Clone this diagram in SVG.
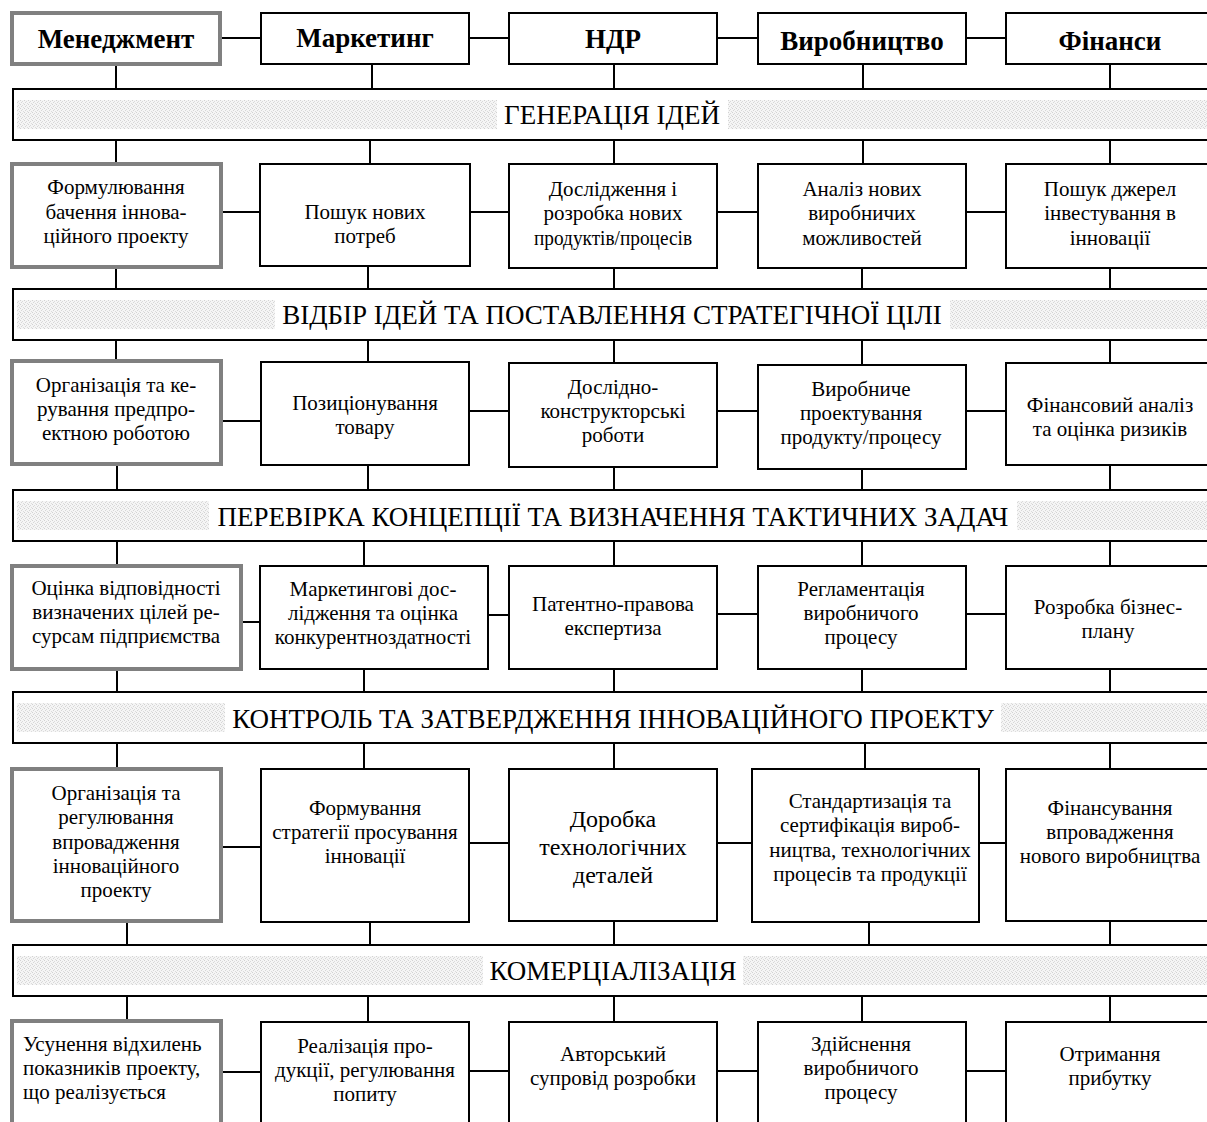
<svg xmlns="http://www.w3.org/2000/svg" width="1207" height="1122" viewBox="0 0 1207 1122">
  <defs>
    <pattern id="stipple" width="4" height="4" patternUnits="userSpaceOnUse">
      <rect width="4" height="4" fill="#f5f5f5"/>
      <rect x="0" y="0" width="1" height="1" fill="#d2d2d2"/>
      <rect x="2" y="1" width="1" height="1" fill="#dadada"/>
      <rect x="1" y="2" width="1" height="1" fill="#d6d6d6"/>
      <rect x="3" y="3" width="1" height="1" fill="#dcdcdc"/>
    </pattern>
    <style>
      .box { fill: #fff; stroke: #000; stroke-width: 2; }
      .mgr { fill: #fff; stroke: #808080; stroke-width: 4; }
      .band { fill: #fff; stroke: #000; stroke-width: 2; }
      .strip { fill: url(#stipple); }
      .lab { fill: #fff; }
      .hdr { font-family: "Liberation Serif", "Times New Roman", serif; font-size: 27px; font-weight: bold; text-anchor: middle; fill: #000; }
      .stage { font-family: "Liberation Serif", "Times New Roman", serif; font-size: 27px; text-anchor: middle; fill: #000; }
      .t { font-family: "Liberation Serif", "Times New Roman", serif; font-size: 21px; text-anchor: middle; fill: #000; }
      .tl { font-family: "Liberation Serif", "Times New Roman", serif; font-size: 21px; text-anchor: start; fill: #000; }
      .big { font-family: "Liberation Serif", "Times New Roman", serif; font-size: 24px; text-anchor: middle; fill: #000; }
      .wire { stroke: #000; stroke-width: 2; fill: none; }
    </style>
  </defs>

  <rect width="1207" height="1122" fill="#fff"/>

  <!-- connectors -->
  <g id="connectors" class="wire">
    <!-- header row -->
    <path d="M220 38H261 M469 38H509 M717 38H758 M966 38H1006"/>
    <path d="M116 64V89 M372 64V89 M614 64V89 M863 64V89 M1110 64V89"/>
    <!-- row 1 -->
    <path d="M116 140V164 M370 140V164 M614 140V164 M863 140V164 M1110 140V164"/>
    <path d="M221 212H260 M470 212H509 M717 212H758 M966 212H1006"/>
    <path d="M116 267V289 M368 266V289 M614 268V289 M862 268V289 M1110 268V289"/>
    <!-- row 2 -->
    <path d="M116 340V362 M368 340V362 M614 340V363 M862 340V365 M1110 340V363"/>
    <path d="M221 421H261 M469 411H509 M717 411H758 M966 411H1006"/>
    <path d="M117 464V490 M368 465V490 M614 467V490 M862 469V490 M1110 465V490"/>
    <!-- row 3 -->
    <path d="M117 541V566 M364 541V566 M614 541V566 M862 541V566 M1110 541V566"/>
    <path d="M241 622H260 M488 615H509 M717 614H758 M966 614H1006"/>
    <path d="M117 669V692 M364 669V692 M614 669V692 M862 669V692 M1110 669V692"/>
    <!-- row 4 -->
    <path d="M117 743V769 M364 743V769 M614 743V769 M865 743V769 M1110 743V769"/>
    <path d="M221 847H261 M469 843H509 M717 843H752 M979 843H1006"/>
    <path d="M127 921V945 M370 922V945 M614 921V945 M869 922V945 M1110 921V945"/>
    <!-- row 5 -->
    <path d="M127 996V1021 M368 996V1022 M614 996V1022 M862 996V1022 M1110 996V1022"/>
    <path d="M221 1072H261 M469 1071H509 M717 1071H758 M966 1071H1006"/>
  </g>

  <!-- header: functional departments -->
  <g id="dept-management">
    <rect class="mgr" x="12" y="13" width="208" height="51"/>
    <text class="hdr" x="116" y="48">Менеджмент</text>
  </g>
  <g id="dept-marketing">
    <rect class="box" x="261" y="13" width="208" height="51"/>
    <text class="hdr" x="365" y="47">Маркетинг</text>
  </g>
  <g id="dept-rnd">
    <rect class="box" x="509" y="13" width="208" height="51"/>
    <text class="hdr" x="613" y="48">НДР</text>
  </g>
  <g id="dept-production">
    <rect class="box" x="758" y="13" width="208" height="51"/>
    <text class="hdr" x="862" y="50">Виробництво</text>
  </g>
  <g id="dept-finance">
    <rect class="box" x="1006" y="13" width="220" height="51"/>
    <text class="hdr" x="1110" y="50">Фінанси</text>
  </g>

  <!-- stage bands -->
  <g id="stage-1">
    <rect class="band" x="13" y="89" width="1220" height="51"/>
    <rect class="strip" x="17" y="100" width="1200" height="29"/>
    <rect class="lab" x="497" y="100" width="231" height="29"/>
    <text class="stage" x="612" y="124">ГЕНЕРАЦІЯ ІДЕЙ</text>
  </g>
  <g id="stage-2">
    <rect class="band" x="13" y="289" width="1220" height="51"/>
    <rect class="strip" x="17" y="300" width="1200" height="29"/>
    <rect class="lab" x="275" y="300" width="675" height="29"/>
    <text class="stage" x="612" y="324">ВІДБІР ІДЕЙ ТА ПОСТАВЛЕННЯ СТРАТЕГІЧНОЇ ЦІЛІ</text>
  </g>
  <g id="stage-3">
    <rect class="band" x="13" y="490" width="1220" height="51"/>
    <rect class="strip" x="17" y="501" width="1200" height="29"/>
    <rect class="lab" x="209" y="501" width="808" height="29"/>
    <text class="stage" x="613" y="526">ПЕРЕВІРКА КОНЦЕПЦІЇ ТА ВИЗНАЧЕННЯ ТАКТИЧНИХ ЗАДАЧ</text>
  </g>
  <g id="stage-4">
    <rect class="band" x="13" y="692" width="1220" height="51"/>
    <rect class="strip" x="17" y="703" width="1200" height="29"/>
    <rect class="lab" x="225" y="703" width="776" height="29"/>
    <text class="stage" x="613" y="728">КОНТРОЛЬ ТА ЗАТВЕРДЖЕННЯ ІННОВАЦІЙНОГО ПРОЕКТУ</text>
  </g>
  <g id="stage-5">
    <rect class="band" x="13" y="945" width="1220" height="51"/>
    <rect class="strip" x="17" y="956" width="1200" height="29"/>
    <rect class="lab" x="483" y="956" width="260" height="29"/>
    <text class="stage" x="613" y="980">КОМЕРЦІАЛІЗАЦІЯ</text>
  </g>

  <!-- row 1 -->
  <g id="r1-management">
    <rect class="mgr" x="12" y="164" width="209" height="103"/>
    <text class="t"><tspan x="116" y="194">Формулювання</tspan><tspan x="116" y="219">бачення іннова-</tspan><tspan x="116" y="243">ційного проекту</tspan></text>
  </g>
  <g id="r1-marketing">
    <rect class="box" x="260" y="164" width="210" height="102"/>
    <text class="t"><tspan x="365" y="219">Пошук нових</tspan><tspan x="365" y="243">потреб</tspan></text>
  </g>
  <g id="r1-rnd">
    <rect class="box" x="509" y="164" width="208" height="104"/>
    <text class="t"><tspan x="613" y="196">Дослідження і</tspan><tspan x="613" y="220">розробка нових</tspan></text>
    <text class="t" x="613" y="245" textLength="158" lengthAdjust="spacingAndGlyphs">продуктів/процесів</text>
  </g>
  <g id="r1-production">
    <rect class="box" x="758" y="164" width="208" height="104"/>
    <text class="t"><tspan x="862" y="196">Аналіз нових</tspan><tspan x="862" y="220">виробничих</tspan><tspan x="862" y="245">можливостей</tspan></text>
  </g>
  <g id="r1-finance">
    <rect class="box" x="1006" y="164" width="220" height="104"/>
    <text class="t"><tspan x="1110" y="196">Пошук джерел</tspan><tspan x="1110" y="220">інвестування в</tspan><tspan x="1110" y="245">інновації</tspan></text>
  </g>

  <!-- row 2 -->
  <g id="r2-management">
    <rect class="mgr" x="12" y="361" width="209" height="103"/>
    <text class="t"><tspan x="116" y="392">Організація та ке-</tspan><tspan x="116" y="416">рування предпро-</tspan><tspan x="116" y="440">ектною роботою</tspan></text>
  </g>
  <g id="r2-marketing">
    <rect class="box" x="261" y="362" width="208" height="103"/>
    <text class="t"><tspan x="365" y="410">Позиціонування</tspan><tspan x="365" y="434">товару</tspan></text>
  </g>
  <g id="r2-rnd">
    <rect class="box" x="509" y="363" width="208" height="104"/>
    <text class="t"><tspan x="613" y="394">Дослідно-</tspan><tspan x="613" y="418">конструкторські</tspan><tspan x="613" y="442">роботи</tspan></text>
  </g>
  <g id="r2-production">
    <rect class="box" x="758" y="365" width="208" height="104"/>
    <text class="t"><tspan x="861" y="396">Виробниче</tspan><tspan x="861" y="420">проектування</tspan><tspan x="861" y="444">продукту/процесу</tspan></text>
  </g>
  <g id="r2-finance">
    <rect class="box" x="1006" y="363" width="220" height="102"/>
    <text class="t"><tspan x="1110" y="412">Фінансовий аналіз</tspan><tspan x="1110" y="436">та оцінка ризиків</tspan></text>
  </g>

  <!-- row 3 -->
  <g id="r3-management">
    <rect class="mgr" x="12" y="566" width="229" height="103"/>
    <text class="t"><tspan x="126" y="595">Оцінка відповідності</tspan><tspan x="126" y="619">визначених цілей ре-</tspan><tspan x="126" y="643">сурсам підприємства</tspan></text>
  </g>
  <g id="r3-marketing">
    <rect class="box" x="260" y="566" width="228" height="103"/>
    <text class="t"><tspan x="373" y="596">Маркетингові дос-</tspan><tspan x="373" y="620">лідження та оцінка</tspan><tspan x="373" y="644">конкурентноздатності</tspan></text>
  </g>
  <g id="r3-rnd">
    <rect class="box" x="509" y="566" width="208" height="103"/>
    <text class="t"><tspan x="613" y="611">Патентно-правова</tspan><tspan x="613" y="635">експертиза</tspan></text>
  </g>
  <g id="r3-production">
    <rect class="box" x="758" y="566" width="208" height="103"/>
    <text class="t"><tspan x="861" y="596">Регламентація</tspan><tspan x="861" y="620">виробничого</tspan><tspan x="861" y="644">процесу</tspan></text>
  </g>
  <g id="r3-finance">
    <rect class="box" x="1006" y="566" width="220" height="103"/>
    <text class="t"><tspan x="1108" y="614">Розробка бізнес-</tspan><tspan x="1108" y="638">плану</tspan></text>
  </g>

  <!-- row 4 -->
  <g id="r4-management">
    <rect class="mgr" x="12" y="769" width="209" height="152"/>
    <text class="t"><tspan x="116" y="800">Організація та</tspan><tspan x="116" y="824">регулювання</tspan><tspan x="116" y="849">впровадження</tspan><tspan x="116" y="873">інноваційного</tspan><tspan x="116" y="897">проекту</tspan></text>
  </g>
  <g id="r4-marketing">
    <rect class="box" x="261" y="769" width="208" height="153"/>
    <text class="t"><tspan x="365" y="815">Формування</tspan><tspan x="365" y="839">стратегії просування</tspan><tspan x="365" y="863">інновації</tspan></text>
  </g>
  <g id="r4-rnd">
    <rect class="box" x="509" y="769" width="208" height="152"/>
    <text class="big"><tspan x="613" y="827">Доробка</tspan><tspan x="613" y="855">технологічних</tspan><tspan x="613" y="883">деталей</tspan></text>
  </g>
  <g id="r4-production">
    <rect class="box" x="752" y="769" width="227" height="153"/>
    <text class="t"><tspan x="870" y="808">Стандартизація та</tspan><tspan x="870" y="832">сертифікація вироб-</tspan><tspan x="870" y="857">ництва, технологічних</tspan><tspan x="870" y="881">процесів та продукції</tspan></text>
  </g>
  <g id="r4-finance">
    <rect class="box" x="1006" y="769" width="220" height="152"/>
    <text class="t"><tspan x="1110" y="815">Фінансування</tspan><tspan x="1110" y="839">впровадження</tspan><tspan x="1110" y="863">нового виробництва</tspan></text>
  </g>

  <!-- row 5 -->
  <g id="r5-management">
    <rect class="mgr" x="12" y="1021" width="209" height="120"/>
    <text class="tl"><tspan x="23" y="1051">Усунення відхилень</tspan><tspan x="23" y="1075">показників проекту,</tspan><tspan x="23" y="1099">що реалізується</tspan></text>
  </g>
  <g id="r5-marketing">
    <rect class="box" x="261" y="1022" width="208" height="120"/>
    <text class="t"><tspan x="365" y="1053">Реалізація про-</tspan><tspan x="365" y="1077">дукції, регулювання</tspan><tspan x="365" y="1101">попиту</tspan></text>
  </g>
  <g id="r5-rnd">
    <rect class="box" x="509" y="1022" width="208" height="120"/>
    <text class="t"><tspan x="613" y="1061">Авторський</tspan><tspan x="613" y="1085">супровід розробки</tspan></text>
  </g>
  <g id="r5-production">
    <rect class="box" x="758" y="1022" width="208" height="120"/>
    <text class="t"><tspan x="861" y="1051">Здійснення</tspan><tspan x="861" y="1075">виробничого</tspan><tspan x="861" y="1099">процесу</tspan></text>
  </g>
  <g id="r5-finance">
    <rect class="box" x="1006" y="1022" width="220" height="120"/>
    <text class="t"><tspan x="1110" y="1061">Отримання</tspan><tspan x="1110" y="1085">прибутку</tspan></text>
  </g>
</svg>
